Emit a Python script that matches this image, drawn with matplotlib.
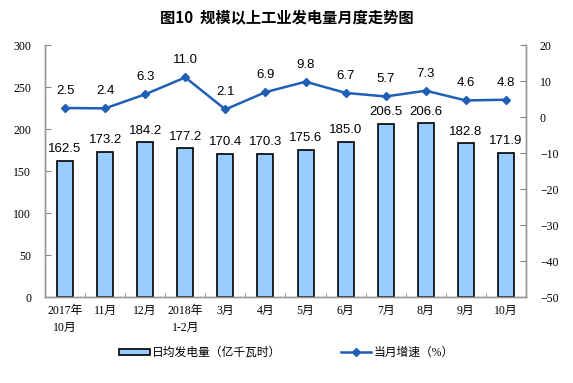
import matplotlib.pyplot as plt
import numpy as np

plt.rcParams['font.family'] = ['Liberation Serif', 'Noto Sans CJK SC', 'DejaVu Sans']

months = ['2017年\n10月', '11月', '12月', '2018年\n1-2月', '3月', '4月',
          '5月', '6月', '7月', '8月', '9月', '10月']
daily_output = [162.5, 173.2, 184.2, 177.2, 170.4, 170.3, 175.6, 185.0, 206.5, 206.6, 182.8, 171.9]
growth = [2.5, 2.4, 6.3, 11.0, 2.1, 6.9, 9.8, 6.7, 5.7, 7.3, 4.6, 4.8]

fig = plt.figure(figsize=(5.73, 3.83), dpi=100)
ax = fig.add_axes([0.0785, 0.2245, 0.8395, 0.658])
ax2 = ax.twinx()

x = np.arange(len(months))
bars = ax.bar(x, daily_output, width=0.4, color='#99CCFF', edgecolor='black',
              linewidth=1.2, zorder=2, label='日均发电量（亿千瓦时）')
for xi, v in zip(x, daily_output):
    ax.annotate('%.1f' % v, (xi, v), xytext=(0, 4), textcoords='offset points',
                ha='center', va='bottom', fontsize=9.5, family='Liberation Sans')

line, = ax2.plot(x, growth, color='#1F5FB5', lw=1.8, marker='D', ms=4,
                 label='当月增速（%）', zorder=3)
for xi, v in zip(x, growth):
    ax2.annotate('%.1f' % v, (xi, v), xytext=(0, 8), textcoords='offset points',
                 ha='center', va='bottom', fontsize=9.5, family='Liberation Sans')

ax.set_xlim(-0.5, len(months) - 0.5)
ax.set_ylim(0, 300)
ax.set_yticks(range(0, 301, 50))
ax2.set_ylim(-50, 20)
ax2.set_yticks(range(-50, 21, 10))

ax.set_xticks(x)
ax.set_xticklabels(months, fontsize=8.5, linespacing=1.5)
ax.set_xticks(np.arange(-0.5, len(months), 1), minor=True)
ax.tick_params(axis='x', which='major', length=0, pad=6)
ax.tick_params(axis='x', which='minor', length=3, direction='in', color='#888888')
ax.tick_params(axis='y', length=4, direction='in', color='#888888', labelsize=8.5, pad=10)
ax2.tick_params(axis='y', length=4, direction='in', color='#888888', labelsize=8.5, pad=10)
ax2.tick_params(axis='x', length=0)

for a in (ax, ax2):
    a.spines['top'].set_visible(False)
    for s in ('left', 'right', 'bottom'):
        a.spines[s].set_color('#999999')
        a.spines[s].set_linewidth(1)

fig.text(0.5, 0.952, '图10  规模以上工业发电量月度走势图', ha='center', va='center',
         fontsize=11, fontweight='bold', family=['Noto Sans CJK SC'])

fig.legend([bars, line], ['日均发电量（亿千瓦时）', '当月增速（%）'],
           loc='center', bbox_to_anchor=(0.5, 0.078), ncol=2, frameon=False,
           fontsize=8.5, handlelength=2.6, handleheight=0.5, columnspacing=5,
           handletextpad=0.2)

plt.savefig('out.png', dpi=100)
